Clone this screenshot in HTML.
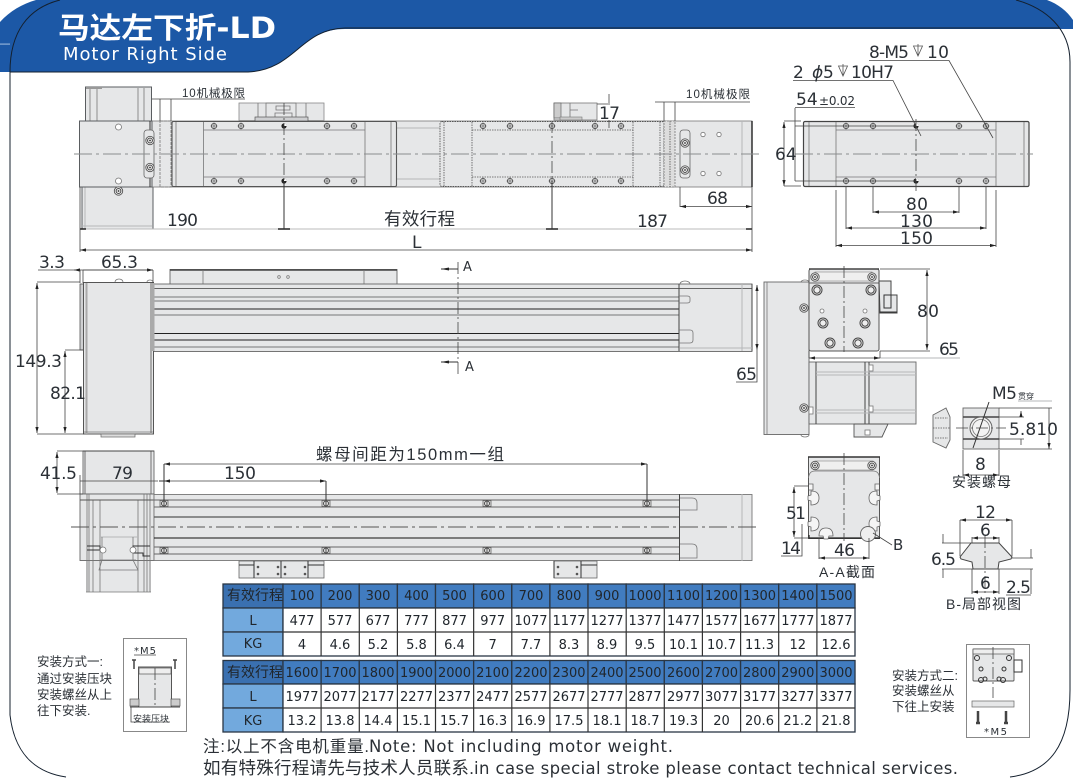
<!DOCTYPE html>
<html><head><meta charset="utf-8"><style>
html,body{margin:0;padding:0;background:#fff}
svg{display:block}
text{font-family:"DejaVu Sans","Noto Sans CJK SC",sans-serif;fill:#2b3036}
.c{font-family:"Liberation Sans","Noto Sans CJK SC",sans-serif}
.n{font-size:17px}
.b{fill:#e6e7e8;stroke:#5a5d60;stroke-width:1}
.w{fill:#fff;stroke:#777;stroke-width:.8}
.l{stroke:#777;stroke-width:.8;fill:none}
.k{stroke:#333;stroke-width:1;fill:none}
.g{stroke:#b5b7b9;stroke-width:1;fill:none}
.d{stroke:#444;stroke-width:.8;fill:none}
.da{stroke:#444;stroke-width:.8;fill:none;marker-start:url(#a);marker-end:url(#a)}
.cl{stroke:#8a8c8e;stroke-width:1;fill:none;stroke-dasharray:18 4 3 4}
.cd{stroke:#444;stroke-width:.8;fill:none;stroke-dasharray:12 3 2 3}
.dot{stroke:#555;stroke-width:.8;fill:none;stroke-dasharray:1.5 1}
.hd{fill:#417cc0;stroke:#2a3644;stroke-width:1.3}
.hd1{fill:#3a70b0;stroke:#2a3644;stroke-width:1.3}
.lb{fill:#72a9dd;stroke:#2a3644;stroke-width:1.3}
.ce{fill:#fff;stroke:#2a3644;stroke-width:1.3}
.tb text{font-size:13px;text-anchor:middle;fill:#20262c}
</style></head><body>
<svg width="1073" height="778" viewBox="0 0 1073 778" xmlns="http://www.w3.org/2000/svg">
<defs>
<marker id="a" viewBox="0 0 6 4" refX="6" refY="2" markerWidth="6" markerHeight="4" markerUnits="userSpaceOnUse" orient="auto-start-reverse"><path d="M0 .4L6 2L0 3.6z" fill="#222"/></marker>
<g id="bolt"><circle r="2.6" fill="none" stroke="#444" stroke-width=".8"/><path d="M-3.5 0H3.5M0-3.5V3.5" stroke="#444" stroke-width=".6"/></g>
<g id="pin"><circle r="2.6" fill="#222"/><path d="M0-2.6A2.6 2.6 0 0 1 2.6 0H0z" fill="#fff"/></g>
<g id="ring"><circle r="4.2" fill="#eee" stroke="#555" stroke-width=".9"/><circle r="2.4" fill="none" stroke="#333" stroke-width=".9"/><circle r=".9" fill="#333"/></g>
<g id="ring2"><circle r="5" fill="#eee" stroke="#444" stroke-width="1"/><circle r="3.2" fill="none" stroke="#444" stroke-width="1"/></g>
<g id="nutb"><rect x="-4" y="-3" width="8" height="6" fill="#ddd" stroke="#555" stroke-width=".7"/><circle r="2.5" fill="none" stroke="#333" stroke-width=".8"/><path d="M0-3V3" stroke="#333" stroke-width=".8"/></g>
<g id="depth"><path d="M-4.5-5H4.5L0 5z M0 -7V5" fill="none" stroke="#555" stroke-width=".8"/></g>
<g id="tsl"><path d="M0-7Q8-7 8 0Q8 7 0 7L0 3L-3 2V-2L0-3Z" fill="#f5f5f5" stroke="#666" stroke-width=".8"/></g>
</defs>
<rect width="1073" height="778" fill="#fff"/>

<!-- header -->
<path d="M0 22C10 11 22 4 36 0H1047C1058 4 1067 11 1073 20V29H345C300 29 295 70 248 72H0Z" fill="#1c58a6"/>
<rect x="0" y="43.5" width="10" height="1.2" fill="#8fb0d8"/>
<path d="M10 715V72C10 32 28 8 60 0" fill="none" stroke="#14202e" stroke-width="1"/>
<path d="M10 72H248C295 70 300 29 345 28H1060" fill="none" stroke="#14202e" stroke-width="1"/>
<path d="M1016 0C1045 8 1070 28 1070 62V690C1070 745 1050 772 1010 777" fill="none" stroke="#14202e" stroke-width="1"/>
<path d="M10 715C14 750 32 772 66 777" fill="none" stroke="#14202e" stroke-width="1"/>
<text x="58" y="38" textLength="218" lengthAdjust="spacingAndGlyphs" style="font-size:29px;font-weight:bold;fill:#fff">马达左下折-LD</text>
<text x="63" y="60" textLength="164" style="font-size:18px;fill:#fff">Motor Right Side</text>

<!-- TOP VIEW -->
<rect x="85.5" y="87" width="66" height="34" class="b"/>
<path d="M90 88V121M97 88V121M138 88V121M144 88V121" class="l"/>
<rect x="86" y="87" width="16" height="2" fill="#999"/>
<rect x="82" y="187" width="71" height="42" class="b"/>
<path d="M85 187V229" class="g"/><path d="M82 226H152" class="g"/>
<rect x="79.5" y="121" width="672.5" height="66" fill="#e6e7e8" stroke="#777" stroke-width=".8"/>
<rect x="79.5" y="121" width="72.5" height="66" class="b"/>
<path d="M150 121V187" class="k"/>
<rect x="144" y="130" width="10" height="48" rx="3" fill="#e6e7e8" stroke="#666" stroke-width=".8"/>
<use href="#ring" x="150" y="140.5"/><use href="#ring" x="150" y="167.5"/>
<circle cx="118.5" cy="127" r="3" class="w"/><circle cx="118.5" cy="181" r="3" class="w"/><use href="#ring" x="118.5" y="191"/>
<rect x="160" y="121" width="11" height="66" fill="none" stroke="#777" stroke-width=".8" stroke-dasharray="3 1"/>
<path d="M396 128H440M396 179H440" class="g"/>
<rect x="172" y="121.5" width="224.5" height="65" rx="1.5" fill="#e6e7e8" stroke="#555" stroke-width="1.1"/>
<path d="M203.5 122V186M365 122V186M391 122V186M176 122V186" class="l"/>
<path d="M203.5 130H365M203.5 177H365" class="l"/>
<use href="#bolt" x="214" y="126"/><use href="#bolt" x="241" y="126"/><use href="#pin" x="284" y="126"/><use href="#bolt" x="327" y="126"/><use href="#bolt" x="354" y="126"/>
<use href="#bolt" x="214" y="181"/><use href="#bolt" x="241" y="181"/><use href="#pin" x="284" y="181"/><use href="#bolt" x="327" y="181"/><use href="#bolt" x="354" y="181"/>
<rect x="239" y="103" width="85" height="17.5" fill="#e6e7e8" stroke="#888" stroke-width=".8"/>
<path d="M258 103V120M306 103V120M266 103H296V118H266ZM276 106H290V110H276ZM275 113H292V120H275Z" class="l"/>
<rect x="255" y="117" width="53" height="4" fill="#cfd0d2" stroke="#555" stroke-width=".7"/>
<rect x="440" y="121.5" width="224" height="65" rx="2" fill="#e6e7e8" stroke="#555" stroke-width=".9" stroke-dasharray="1.5 1"/>
<path d="M444 122V186M472 122V186M633 122V186M660 122V186" class="dot"/>
<path d="M472 130H633M472 177H633" class="dot"/>
<use href="#bolt" x="483" y="126"/><use href="#bolt" x="510" y="126"/><use href="#bolt" x="552" y="126"/><use href="#bolt" x="595" y="126"/><use href="#bolt" x="621" y="126"/>
<use href="#bolt" x="483" y="181"/><use href="#bolt" x="510" y="181"/><use href="#bolt" x="552" y="181"/><use href="#bolt" x="595" y="181"/><use href="#bolt" x="621" y="181"/>
<rect x="554" y="103" width="43" height="17" fill="#e6e7e8" stroke="#777" stroke-width=".8"/>
<path d="M570 103V117M578 110H570" class="l"/><rect x="554" y="103" width="7" height="15" fill="#ccc" stroke="#555" stroke-width=".6"/>
<rect x="560" y="117" width="22" height="3" fill="#ccc" stroke="#777" stroke-width=".6"/>
<rect x="664" y="121" width="11" height="66" fill="#ddd" stroke="#777" stroke-width=".8" stroke-dasharray="2 1"/>
<path d="M670 121V187" class="dot"/>
<rect x="680" y="130" width="10" height="48" rx="3" fill="#e6e7e8" stroke="#666" stroke-width=".8"/>
<use href="#ring" x="685" y="143"/><use href="#ring" x="685" y="170"/>
<circle cx="703" cy="134.5" r="2.2" class="w"/><circle cx="719" cy="134.5" r="2.2" class="w"/><circle cx="703" cy="173.5" r="2.2" class="w"/><circle cx="719" cy="173.5" r="2.2" class="w"/>
<path d="M742 121V187" class="g"/><path d="M752 121V187" stroke="#222" stroke-width="1.4"/>
<path d="M74 154H760" class="cl"/>
<path d="M284 103V181M552 121V181" class="cd"/>

<!-- top view dims -->
<path d="M160 99V121M171 99V121M152 99H245" class="d"/>
<text x="182" y="97" textLength="63" class="c" style="font-size:11.5px">10机械极限</text>
<path d="M664 102V121M675 102V121M655 102H750" class="d"/>
<text x="686" y="98" textLength="64" class="c" style="font-size:11.5px">10机械极限</text>
<path d="M609 94V103M609 120V128M597 104H610" class="d"/>
<text x="599" y="119" textLength="21" class="n">17</text>
<path d="M680 187V207" class="d"/>
<path d="M680 206.5H752" class="da"/>
<text x="707" y="204" textLength="21" class="n">68</text>
<text x="167" y="226" textLength="31" class="n">190</text>
<text x="384" y="225" textLength="71" class="c" style="font-size:17.5px">有效行程</text>
<text x="637" y="227" textLength="31" class="n">187</text>
<path d="M80 229H752" stroke="#bbb" stroke-width="1" fill="none"/>
<path d="M278 229H290M546 229H558M80 229H86M746 229H752" stroke="#222" stroke-width="1.5"/>
<path d="M284 181V229M552 181V229" class="k"/>
<path d="M80 187V252M752 187V252" class="d"/>
<path d="M80 250H752" class="da"/>
<text x="412" y="248" class="n">L</text>

<!-- RIGHT TOP VIEW -->
<rect x="803.5" y="121.5" width="225.5" height="65" rx="1.5" fill="#e6e7e8" stroke="#444" stroke-width="1.2"/>
<path d="M809 122V186M836 122V186M996 122V186M1024 122V186" class="l"/>
<path d="M836 130H996M836 177H996" class="l"/>
<use href="#bolt" x="846" y="126"/><use href="#bolt" x="873" y="126"/><use href="#pin" x="916" y="126"/><use href="#bolt" x="959" y="126"/><use href="#bolt" x="986" y="126"/>
<use href="#bolt" x="846" y="181"/><use href="#bolt" x="873" y="181"/><use href="#pin" x="916" y="181"/><use href="#bolt" x="959" y="181"/><use href="#bolt" x="986" y="181"/>
<path d="M795 154H1033" class="cl"/>
<path d="M916 119V192" class="cd"/>
<path d="M784 121H801M784 186H801M795 126H916M795 181H916" class="d"/>
<path d="M784 122V186" class="da"/>
<path d="M795 108V181" class="d"/>
<text x="775" y="160" class="n">64</text>
<path d="M795 107.5H855" class="d"/>
<text x="796" y="105" class="n">54</text>
<text x="819" y="105" textLength="36" style="font-size:12px">±0.02</text>
<path d="M793 80.5H893L921 136" class="d"/>
<text x="793" y="78" class="n">2</text><text x="812" y="78" class="n" style="font-style:italic">ϕ</text><text x="823" y="78" class="n">5</text>
<use href="#depth" x="843" y="71"/>
<text x="851" y="78" textLength="43" class="n">10H7</text>
<path d="M869 60.5H949L993 138" class="d"/>
<text x="869" y="58" textLength="40" class="n">8-M5</text>
<use href="#depth" x="918" y="51"/>
<text x="927" y="58" textLength="22" class="n">10</text>
<path d="M873 186V213M959 186V213M846 186V229M986 186V229M836 190V247M996 190V247" class="d"/>
<path d="M873 212H959" class="da"/><path d="M846 228H986" class="da"/><path d="M836 245.5H996" class="da"/>
<text x="906" y="210" textLength="22" class="n">80</text>
<text x="900" y="227" textLength="33" class="n">130</text>
<text x="900" y="244" textLength="33" class="n">150</text>

<!-- SIDE VIEW -->
<rect x="170" y="269.5" width="227" height="15" fill="#e6e7e8" stroke="#666" stroke-width=".9"/>
<path d="M170 270H397" stroke="#444" stroke-width="1.5"/>
<path d="M203 270V284M364 270V284" class="l"/><circle cx="279" cy="277" r="1.3" class="w"/><circle cx="288" cy="277" r="1.3" class="w"/>
<rect x="153" y="284" width="599" height="67.5" fill="#e6e7e8" stroke="#666" stroke-width=".9"/>
<path d="M153 288.5H752" stroke="#666" stroke-width=".9"/>
<path d="M153 297H679M153 301H679M153 315H679M153 347H679" stroke="#777" stroke-width="1" fill="none"/>
<path d="M153 309H679M153 333.5H679M153 340H679" stroke="#222" stroke-width="1"/>
<path d="M679 284V351" stroke="#444" stroke-width="1"/><path d="M742 284V351" class="g"/><path d="M752 284V351" stroke="#444" stroke-width="1"/>
<path d="M679 296H687Q690 296 690 298V301Q690 303 687 303H679M679 330H690Q693 330 693 333V340Q693 343 690 343H679" class="l"/>
<path d="M680 284a5 3 0 0 1 10 0" class="l"/>
<path d="M680 348H752" class="g"/>
<rect x="80" y="284" width="4" height="66" fill="#cfd0d2" stroke="#555" stroke-width=".8"/>
<rect x="83.5" y="282.5" width="70" height="151.5" fill="#e6e7e8" stroke="#555" stroke-width="1"/>
<path d="M86.5 283V434M151 283V434" stroke="#aaa" stroke-width="2"/>
<path d="M84 432H153" class="l"/>
<rect x="152" y="283" width="2.5" height="68" fill="#aaa"/>
<rect x="101" y="434" width="34" height="3" fill="#ddd" stroke="#666" stroke-width=".7"/>
<path d="M115 282a4 3 0 0 1 8 0M147 282a3 2 0 0 1 6 0" class="l"/>
<path d="M458 262V374" class="cd"/>
<path d="M441 269H458M441 362H458" class="k"/><path d="M441 269L449 267.5V270.5zM441 362L449 360.5V363.5z" fill="#222"/>
<text x="463" y="271" style="font-size:13px">A</text><text x="465" y="371" style="font-size:13px">A</text>
<path d="M38 270H153" class="d"/><path d="M74 270H80M83 270H153" class="da"/>
<path d="M80 270V283M83 270V283M153 270V283" class="d"/>
<text x="39" y="268" textLength="26" class="n">3.3</text>
<text x="101" y="268" textLength="37" class="n">65.3</text>
<path d="M37 282H80M37 434H84M65 350H83M65 434H84" class="d"/>
<path d="M37 283V433" class="da"/><path d="M65 351V433" class="da"/>
<text x="15" y="367" textLength="47" class="n">149.3</text>
<text x="50" y="399" textLength="36" class="n">82.1</text>

<!-- RIGHT MIDDLE VIEW -->
<rect x="764" y="282" width="45" height="152.5" fill="#e6e7e8" stroke="#666" stroke-width=".9"/>
<path d="M767 282V434" class="l"/><path d="M801 282a4 2 0 0 1 8 0M801 435a4 2 0 0 0 8 0" class="l"/>
<use href="#ring" x="804" y="308"/><use href="#ring" x="804" y="408"/>
<rect x="809" y="269" width="70" height="82" rx="2" fill="#e6e7e8" stroke="#555" stroke-width="1"/>
<path d="M809 283H879" stroke="#666" stroke-width="1"/><rect x="815" y="272" width="57" height="9" fill="#efefef" stroke="#888" stroke-width=".6"/>
<path d="M809 269H879" stroke="#444" stroke-width="1.6"/>
<use href="#ring" x="815" y="277"/><use href="#ring" x="872" y="277"/>
<use href="#ring2" x="817" y="290"/><use href="#ring2" x="871" y="290"/><use href="#ring2" x="823" y="323"/><use href="#ring2" x="865" y="323"/><use href="#ring2" x="830" y="343"/><use href="#ring2" x="858" y="343"/>
<circle cx="822" cy="311" r="2" class="w"/><circle cx="865" cy="311" r="2" class="w"/>
<path d="M844 266V352" class="cd"/>
<path d="M879 281H891V295H897V313H880Z" fill="#e6e7e8" stroke="#444" stroke-width="1"/><path d="M884 295H891V308H884ZM880 312H897" class="k"/>
<rect x="809" y="362" width="107" height="62" fill="#e6e7e8" stroke="#666" stroke-width=".9"/>
<path d="M816 362V424M865 362V424M869 362V424" stroke="#444" stroke-width="1"/>
<path d="M816 372H916M816 375H916M816 410H916M816 413H916" class="g"/>
<path d="M854 424H888L882 437H854Z" fill="#e6e7e8" stroke="#555" stroke-width=".9"/><rect x="865" y="430" width="5" height="5" class="w"/>
<rect x="809" y="407" width="4" height="7" class="w"/><rect x="869" y="365" width="4" height="6" class="w"/><rect x="869" y="406" width="4" height="6" class="w"/>
<path d="M880 269H930M880 351H930" class="d"/>
<path d="M927 270V350" class="da"/>
<text x="917" y="317" textLength="22" class="n">80</text>
<path d="M809 358H880" class="da"/><path d="M880 358H960" class="g"/><path d="M809 351V358M880 351V358" class="d"/>
<text x="939" y="355" textLength="20" class="n">65</text>
<path d="M757 285V350" class="da"/><path d="M736 382H757V350" class="d"/>
<text x="736" y="380" textLength="21" class="n">65</text>

<!-- nut -->
<text x="992" y="399" textLength="25" class="n">M5</text>
<text x="1018" y="399" class="c" style="font-size:8px">贯穿</text>
<path d="M1018 401H1052" class="g"/>
<path d="M933 415L946 408L950 417V440L946 448L933 442Z" fill="#e6e7e8" stroke="#666" stroke-width=".9"/>
<path d="M933 428H950M935 418H948M935 438H948" class="dot"/>
<rect x="963" y="408" width="36" height="41" fill="#e6e7e8" stroke="#666" stroke-width=".9"/>
<path d="M963 417H999M963 439H999" stroke="#444" stroke-width="1.6"/>
<circle cx="981" cy="428" r="11" fill="#f3f3f3" stroke="#666" stroke-width="1"/><circle cx="981" cy="428" r="8.5" class="l"/>
<path d="M956 428H1006" class="cd"/>
<path d="M989 402L973 448" class="k"/>
<path d="M999 417H1024M999 439H1024M999 408H1052M999 449H1052" class="d"/>
<path d="M1021 411V417M1021 439V445M1049 408V449" class="da"/>
<text x="1009" y="435" textLength="49" class="n">5.810</text>
<path d="M963 450V476M999 450V476" class="d"/><path d="M963 475H999" class="da"/>
<text x="975" y="470" class="n">8</text>
<text x="952" y="487" textLength="59" class="c" style="font-size:14px">安装螺母</text>

<!-- A-A -->
<rect x="808.5" y="457" width="71" height="81.5" fill="#e6e7e8" stroke="#555" stroke-width="1"/>
<path d="M808 457H880" stroke="#333" stroke-width="1.6"/>
<path d="M808.5 478Q809 471 815 471H873Q879 471 879.5 478" class="l"/>
<rect x="815" y="461" width="58" height="9" fill="#efefef" stroke="#888" stroke-width=".6"/>
<use href="#ring" x="815" y="465.5"/><use href="#ring" x="872" y="465.5"/>
<path d="M809 535V538H880" stroke="#222" stroke-width="1.2" fill="none"/>
<path d="M809 484H813V490H809M879 484H875V490H879" fill="#f5f5f5" stroke="#666" stroke-width=".8"/>
<use href="#tsl" transform="translate(811 498)"/><use href="#tsl" transform="translate(811 524)"/>
<use href="#tsl" transform="translate(877 498) scale(-1 1)"/><use href="#tsl" transform="translate(877 524) scale(-1 1)"/>
<use href="#tsl" transform="translate(826 536) rotate(-90)"/>
<circle cx="868" cy="534" r="7.5" fill="#eee" stroke="#666" stroke-width=".9"/>
<path d="M844 453V541" class="cd"/>
<path d="M794 486H809M794 538H809M802 524V538" class="d"/>
<path d="M794 487V537" class="da"/><path d="M802 538V556H781" class="d"/>
<text x="786" y="519" textLength="20" class="n">51</text>
<text x="781" y="554" textLength="20" class="n">14</text>
<path d="M819 538V559M869 538V559" class="d"/><path d="M819 558H869" class="da"/>
<text x="834" y="556" textLength="21" class="n">46</text>
<path d="M873 533L892 545" class="d"/>
<text x="893" y="550" style="font-size:15px">B</text>
<text x="819" y="577" textLength="56" class="c" style="font-size:14px">A-A截面</text>

<!-- B detail -->
<path d="M960 557L971 543H999L1012 557L1011 559L999 562L998 569H973L972 562L961 559Z" fill="#e6e7e8" stroke="#444" stroke-width="1"/>
<path d="M985 536V594" class="cd"/>
<path d="M960 520V556M1012 520V556M972 537V543M999 537V543" class="d"/>
<path d="M960 520H1012" class="da"/><path d="M972 538H999" class="da"/>
<text x="975" y="518" textLength="21" class="n">12</text>
<text x="980" y="536" class="n">6</text>
<path d="M942 543H971M942 569H1033M1012 558H1033M972 569V594M999 569V594" class="d"/>
<path d="M943 534V543M943 569V578M1031 549V558M1031 569V594" class="d"/>
<text x="931" y="565" textLength="25" class="n">6.5</text>
<path d="M972 592H999" class="da"/>
<text x="980" y="589" class="n">6</text>
<path d="M1006 595H1031" class="d"/>
<text x="1006" y="593" textLength="25" class="n">2.5</text>
<text x="946" y="609" textLength="75" class="c" style="font-size:14px">B-局部视图</text>

<!-- BOTTOM VIEW -->
<rect x="83" y="451" width="71" height="43" fill="#e6e7e8" stroke="#666" stroke-width=".9"/>
<path d="M85 451V494M151 451V494" stroke="#999" stroke-width="1.5"/><path d="M83 451H154" stroke="#444" stroke-width="1"/>
<rect x="97" y="494" width="8" height="4" class="w"/>
<rect x="86" y="560" width="65" height="32" fill="#e6e7e8"/>
<rect x="80" y="494" width="74" height="66.5" fill="#e6e7e8" stroke="#666" stroke-width=".9"/>
<path d="M87 494V592M89 494V592M93 500V592M100 500V592M138 500V592M144 494V592M147 494V592M150 494V592" class="l"/>
<path d="M86 592H151" class="l"/>
<path d="M80 500H154" stroke="#555" stroke-width=".9"/>
<path d="M100 537H138" class="g"/>
<path d="M102 537V560L99 570H138L133 560V537M100 560H136" class="l"/>
<path d="M87 546H100V550H87M150 546H133V553H143V556H150" class="k"/>
<circle cx="103" cy="550" r="3" class="w"/><circle cx="133" cy="550" r="3" class="w"/>
<rect x="154" y="494.5" width="598" height="66" fill="#e6e7e8" stroke="#777" stroke-width=".9"/>
<path d="M154 500H680M154 507H680M154 547H680M154 554H680" stroke="#666" stroke-width="1"/>
<path d="M154 517H680" stroke="#555" stroke-width="1.3"/><path d="M154 538H680" stroke="#111" stroke-width="1"/>
<path d="M679.5 494V561" stroke="#444" stroke-width="1"/><path d="M742 494V561" class="g"/>
<path d="M680 498H692Q697 498 697 503V510H680M680 544H692Q697 544 697 549V558H680" class="l"/>
<use href="#nutb" x="164" y="503.5"/><use href="#nutb" x="326" y="503.5"/><use href="#nutb" x="487" y="503.5"/><use href="#nutb" x="647" y="503.5"/>
<use href="#nutb" x="164" y="550.5"/><use href="#nutb" x="326" y="550.5"/><use href="#nutb" x="487" y="550.5"/><use href="#nutb" x="647" y="550.5"/>
<path d="M71 527H760" stroke="#555" stroke-width=".9" stroke-dasharray="18 4 3 4" fill="none"/>
<rect x="239" y="561" width="85" height="17" fill="#e6e7e8" stroke="#666" stroke-width=".8"/>
<path d="M239 565H254M308 565H324M254 561V578M308 561V578M281 561V578" stroke="#333" stroke-width="1"/>
<g fill="#555"><circle cx="258" cy="567" r="1.3"/><circle cx="258" cy="574" r="1.3"/><circle cx="278" cy="567" r="1.3"/><circle cx="278" cy="574" r="1.3"/><circle cx="285" cy="567" r="1.3"/><circle cx="285" cy="574" r="1.3"/><circle cx="305" cy="567" r="1.3"/><circle cx="305" cy="574" r="1.3"/></g>
<rect x="554" y="561" width="43" height="17" fill="#e6e7e8" stroke="#666" stroke-width=".8"/>
<path d="M581 565H597M581 561V578" stroke="#333" stroke-width="1"/><path d="M554 561V578" stroke="#333" stroke-width="1"/>
<g fill="#555"><circle cx="558" cy="567" r="1.3"/><circle cx="558" cy="574" r="1.3"/><circle cx="577" cy="567" r="1.3"/><circle cx="577" cy="574" r="1.3"/></g>
<path d="M57 451H83M57 494H83" class="d"/><path d="M57 452V493" class="da"/>
<text x="40" y="479" textLength="37" class="n">41.5</text>
<text x="112" y="479" textLength="21" class="n">79</text>
<path d="M80 481H158" class="d"/><path d="M80 475V494" class="d"/>
<path d="M159 481H170" class="k"/><path d="M164 481H326" class="da"/>
<path d="M164 464H647" class="da"/>
<path d="M164 464V500M326 481V500M647 464V500" class="k"/>
<text x="224" y="479" textLength="32" class="n">150</text>
<text x="316" y="460" textLength="188" class="c" style="font-size:16.5px">螺母间距为150mm一组</text>

<!-- TABLE 1 -->
<g class="tb">
<rect x="223" y="584" width="60" height="24" class="hd1"/>
<rect x="283" y="584" width="38.13" height="24" class="hd"/><rect x="321.13" y="584" width="38.13" height="24" class="hd"/><rect x="359.26" y="584" width="38.13" height="24" class="hd"/><rect x="397.4" y="584" width="38.13" height="24" class="hd"/><rect x="435.5" y="584" width="38.13" height="24" class="hd"/><rect x="473.65" y="584" width="38.13" height="24" class="hd"/><rect x="511.8" y="584" width="38.13" height="24" class="hd"/><rect x="549.9" y="584" width="38.13" height="24" class="hd"/><rect x="588" y="584" width="38.13" height="24" class="hd"/><rect x="626.2" y="584" width="38.13" height="24" class="hd"/><rect x="664.3" y="584" width="38.13" height="24" class="hd"/><rect x="702.4" y="584" width="38.13" height="24" class="hd"/><rect x="740.6" y="584" width="38.13" height="24" class="hd"/><rect x="778.7" y="584" width="38.13" height="24" class="hd"/><rect x="816.9" y="584" width="38.13" height="24" class="hd"/>
<rect x="223" y="608" width="60" height="24" class="lb"/><rect x="223" y="632" width="60" height="24" class="lb"/>
<rect x="283" y="608" width="572" height="48" class="ce"/>
<path d="M283 632H855M321.1 608V656M359.3 608V656M397.4 608V656M435.5 608V656M473.65 608V656M511.8 608V656M549.9 608V656M588 608V656M626.2 608V656M664.3 608V656M702.4 608V656M740.6 608V656M778.7 608V656M816.9 608V656" stroke="#333" stroke-width="1.2" fill="none"/>
<text x="255" y="600" class="c" style="font-size:14px">有效行程</text>
<text x="302" y="600">100</text><text x="340" y="600">200</text><text x="378" y="600">300</text><text x="416.5" y="600">400</text><text x="454.5" y="600">500</text><text x="492.7" y="600">600</text><text x="531" y="600">700</text><text x="569" y="600">800</text><text x="607" y="600">900</text><text x="645" y="600">1000</text><text x="683.5" y="600">1100</text><text x="721.5" y="600">1200</text><text x="759.5" y="600">1300</text><text x="797.8" y="600">1400</text><text x="836" y="600">1500</text>
<text x="253" y="625">L</text><text x="253" y="648">KG</text>
<text x="302" y="625">477</text><text x="340" y="625">577</text><text x="378" y="625">677</text><text x="416.5" y="625">777</text><text x="454.5" y="625">877</text><text x="492.7" y="625">977</text><text x="531" y="625">1077</text><text x="569" y="625">1177</text><text x="607" y="625">1277</text><text x="645" y="625">1377</text><text x="683.5" y="625">1477</text><text x="721.5" y="625">1577</text><text x="759.5" y="625">1677</text><text x="797.8" y="625">1777</text><text x="836" y="625">1877</text>
<text x="302" y="649">4</text><text x="340" y="649">4.6</text><text x="378" y="649">5.2</text><text x="416.5" y="649">5.8</text><text x="454.5" y="649">6.4</text><text x="492.7" y="649">7</text><text x="531" y="649">7.7</text><text x="569" y="649">8.3</text><text x="607" y="649">8.9</text><text x="645" y="649">9.5</text><text x="683.5" y="649">10.1</text><text x="721.5" y="649">10.7</text><text x="759.5" y="649">11.3</text><text x="797.8" y="649">12</text><text x="836" y="649">12.6</text>

<rect x="223" y="660.5" width="60" height="23.5" class="hd1"/>
<rect x="283" y="660.5" width="38.13" height="23.5" class="hd"/><rect x="321.13" y="660.5" width="38.13" height="23.5" class="hd"/><rect x="359.26" y="660.5" width="38.13" height="23.5" class="hd"/><rect x="397.4" y="660.5" width="38.13" height="23.5" class="hd"/><rect x="435.5" y="660.5" width="38.13" height="23.5" class="hd"/><rect x="473.65" y="660.5" width="38.13" height="23.5" class="hd"/><rect x="511.8" y="660.5" width="38.13" height="23.5" class="hd"/><rect x="549.9" y="660.5" width="38.13" height="23.5" class="hd"/><rect x="588" y="660.5" width="38.13" height="23.5" class="hd"/><rect x="626.2" y="660.5" width="38.13" height="23.5" class="hd"/><rect x="664.3" y="660.5" width="38.13" height="23.5" class="hd"/><rect x="702.4" y="660.5" width="38.13" height="23.5" class="hd"/><rect x="740.6" y="660.5" width="38.13" height="23.5" class="hd"/><rect x="778.7" y="660.5" width="38.13" height="23.5" class="hd"/><rect x="816.9" y="660.5" width="38.13" height="23.5" class="hd"/>
<rect x="223" y="684" width="60" height="24" class="lb"/><rect x="223" y="708" width="60" height="24" class="lb"/>
<rect x="283" y="684" width="572" height="48" class="ce"/>
<path d="M283 708H855M321.1 684V732M359.3 684V732M397.4 684V732M435.5 684V732M473.65 684V732M511.8 684V732M549.9 684V732M588 684V732M626.2 684V732M664.3 684V732M702.4 684V732M740.6 684V732M778.7 684V732M816.9 684V732" stroke="#333" stroke-width="1.2" fill="none"/>
<text x="255" y="677" class="c" style="font-size:14px">有效行程</text>
<text x="302" y="677">1600</text><text x="340" y="677">1700</text><text x="378" y="677">1800</text><text x="416.5" y="677">1900</text><text x="454.5" y="677">2000</text><text x="492.7" y="677">2100</text><text x="531" y="677">2200</text><text x="569" y="677">2300</text><text x="607" y="677">2400</text><text x="645" y="677">2500</text><text x="683.5" y="677">2600</text><text x="721.5" y="677">2700</text><text x="759.5" y="677">2800</text><text x="797.8" y="677">2900</text><text x="836" y="677">3000</text>
<text x="253" y="701">L</text><text x="253" y="725">KG</text>
<text x="302" y="701">1977</text><text x="340" y="701">2077</text><text x="378" y="701">2177</text><text x="416.5" y="701">2277</text><text x="454.5" y="701">2377</text><text x="492.7" y="701">2477</text><text x="531" y="701">2577</text><text x="569" y="701">2677</text><text x="607" y="701">2777</text><text x="645" y="701">2877</text><text x="683.5" y="701">2977</text><text x="721.5" y="701">3077</text><text x="759.5" y="701">3177</text><text x="797.8" y="701">3277</text><text x="836" y="701">3377</text>
<text x="302" y="725">13.2</text><text x="340" y="725">13.8</text><text x="378" y="725">14.4</text><text x="416.5" y="725">15.1</text><text x="454.5" y="725">15.7</text><text x="492.7" y="725">16.3</text><text x="531" y="725">16.9</text><text x="569" y="725">17.5</text><text x="607" y="725">18.1</text><text x="645" y="725">18.7</text><text x="683.5" y="725">19.3</text><text x="721.5" y="725">20</text><text x="759.5" y="725">20.6</text><text x="797.8" y="725">21.2</text><text x="836" y="725">21.8</text>
</g>

<!-- notes -->
<text x="203" y="752" textLength="166" class="c" style="font-size:16.5px">注:以上不含电机重量.</text>
<text x="369" y="752" textLength="304" style="font-size:16.5px">Note: Not including motor weight.</text>
<text x="203" y="774" textLength="271" class="c" style="font-size:17.5px">如有特殊行程请先与技术人员联系.</text>
<text x="474" y="774" textLength="484" style="font-size:16.5px">in case special stroke please contact technical services.</text>

<!-- install 1 -->
<text x="37" y="666" class="c" style="font-size:12.5px">安装方式一:</text>
<text x="37" y="683" class="c" style="font-size:12.5px">通过安装压块</text>
<text x="37" y="699" class="c" style="font-size:12.5px">安装螺丝从上</text>
<text x="37" y="715" class="c" style="font-size:12.5px">往下安装.</text>
<rect x="123.5" y="638.5" width="63" height="93" fill="#fff" stroke="#888" stroke-width="1"/>
<text x="134" y="654" textLength="22" style="font-size:10px">*M5</text><path d="M134 655H156" class="d"/>
<rect x="138.5" y="667" width="33" height="40" fill="#e6e7e8" stroke="#555" stroke-width="1"/>
<rect x="139" y="668" width="32" height="6" fill="#eee" stroke="#555" stroke-width=".7"/>
<path d="M155 668V708" class="cd"/>
<path d="M132 660H136M134 660V669M173 660H177M175 660V669" stroke="#444" stroke-width="1.5"/>
<rect x="130" y="699" width="9" height="7" fill="#ccc" stroke="#555" stroke-width=".7"/><rect x="171" y="699" width="9" height="7" fill="#ccc" stroke="#555" stroke-width=".7"/>
<path d="M130 707H180" stroke="#444" stroke-width="1"/>
<path d="M131 707V722H170" class="d"/>
<text x="133" y="722" textLength="36" class="c" style="font-size:9px">安装压块</text>

<!-- install 2 -->
<text x="892" y="680" class="c" style="font-size:12.5px">安装方式二:</text>
<text x="892" y="695" class="c" style="font-size:12.5px">安装螺丝从</text>
<text x="892" y="711" class="c" style="font-size:12.5px">下往上安装</text>
<rect x="966.5" y="644.5" width="63" height="93" fill="#fff" stroke="#888" stroke-width="1"/>
<rect x="973" y="649" width="41" height="32" rx="1" fill="#e6e7e8" stroke="#555" stroke-width=".9"/>
<rect x="973" y="649" width="41" height="5" fill="#eee" stroke="#555" stroke-width=".7"/>
<circle cx="977" cy="658" r="2.5" class="k"/><circle cx="1009" cy="658" r="2.5" class="k"/><circle cx="981" cy="680" r="2.5" class="k"/><circle cx="1003" cy="680" r="2.5" class="k"/><circle cx="985" cy="679" r="2" class="k"/><circle cx="999" cy="679" r="2" class="k"/><circle cx="981" cy="669" r="2" class="k"/><circle cx="1004" cy="669" r="2" class="k"/>
<path d="M993 647V698" class="cd"/>
<path d="M1014 660H1022V672H1014ZM1015 672H1021" class="k"/>
<rect x="972" y="701" width="42" height="6" fill="#e6e7e8" stroke="#666" stroke-width=".7"/>
<path d="M978 711V722M1006 711V722M976 723H980M1004 723H1008" stroke="#444" stroke-width="2.5"/>
<text x="984" y="735" textLength="23" style="font-size:10px">*M5</text>
</svg>
</body></html>
